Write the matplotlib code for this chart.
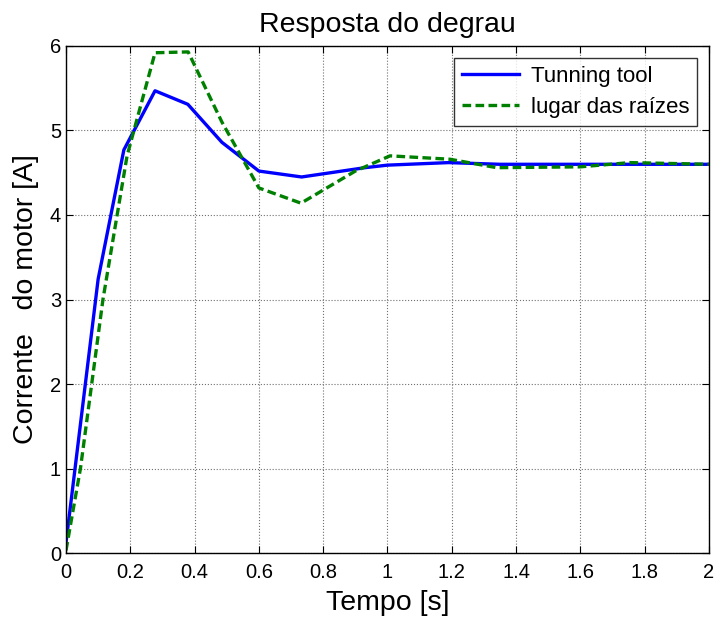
import matplotlib
matplotlib.use('Agg')
import matplotlib.pyplot as plt
from matplotlib.ticker import FuncFormatter

# dados
t_tuning = [0.0, 0.10, 0.18, 0.277, 0.379, 0.485, 0.60, 0.733, 0.93, 1.0, 1.19, 1.35, 1.6, 1.8, 2.0]
i_tuning = [0.12, 3.24, 4.77, 5.47, 5.31, 4.86, 4.52, 4.45, 4.56, 4.59, 4.62, 4.60, 4.60, 4.60, 4.60]

t_raizes = [0.0, 0.045, 0.115, 0.19, 0.277, 0.38, 0.485, 0.60, 0.731, 0.90, 1.008, 1.194, 1.34, 1.6, 1.754, 2.0]
i_raizes = [0.03, 1.0, 3.0, 4.7, 5.92, 5.93, 5.1, 4.32, 4.14, 4.52, 4.70, 4.66, 4.56, 4.57, 4.62, 4.60]

x_ticks = [0, 0.2, 0.4, 0.6, 0.8, 1.0, 1.2, 1.4, 1.6, 1.8, 2.0]
y_ticks = [0, 1, 2, 3, 4, 5, 6]

plt.rcParams['font.family'] = ['Liberation Sans', 'DejaVu Sans']

fig = plt.figure(figsize=(7.14, 6.19), dpi=100)
ax = fig.add_axes([0.0924, 0.1066, 0.9006, 0.8191])

ax.plot(t_tuning, i_tuning, color='#0000ff', linewidth=2.4, label='Tunning tool')
ax.plot(t_raizes, i_raizes, color='#008000', linewidth=2.4, linestyle=(0, (2.6, 1.3)),
        label='lugar das raízes')

ax.set_xlim(0, 2)
ax.set_ylim(0, 6)
ax.set_xticks(x_ticks)
ax.set_yticks(y_ticks)
ax.xaxis.set_major_formatter(FuncFormatter(lambda v, p: '%g' % v))
ax.tick_params(direction='in', top=True, right=True, labelsize=14.5, length=5, width=0.8)
ax.tick_params(axis='x', pad=7)
ax.grid(True, linestyle=':', color='#707070', linewidth=0.8)
for s in ax.spines.values():
    s.set_linewidth(1.0)

ax.set_title('Resposta do degrau', fontsize=20.5, pad=10)
ax.set_xlabel('Tempo [s]', fontsize=20.5, labelpad=6)
ax.set_ylabel('Corrente   do motor [A]', fontsize=20.5, labelpad=8)

leg = ax.legend(loc='upper right', fontsize=16, handlelength=2.6, frameon=True,
                fancybox=False, borderaxespad=0.55, handletextpad=0.5,
                labelspacing=0.45, borderpad=0.35)
leg.get_frame().set_edgecolor('black')
leg.get_frame().set_linewidth(1.0)

fig.savefig('out.png', dpi=100)
